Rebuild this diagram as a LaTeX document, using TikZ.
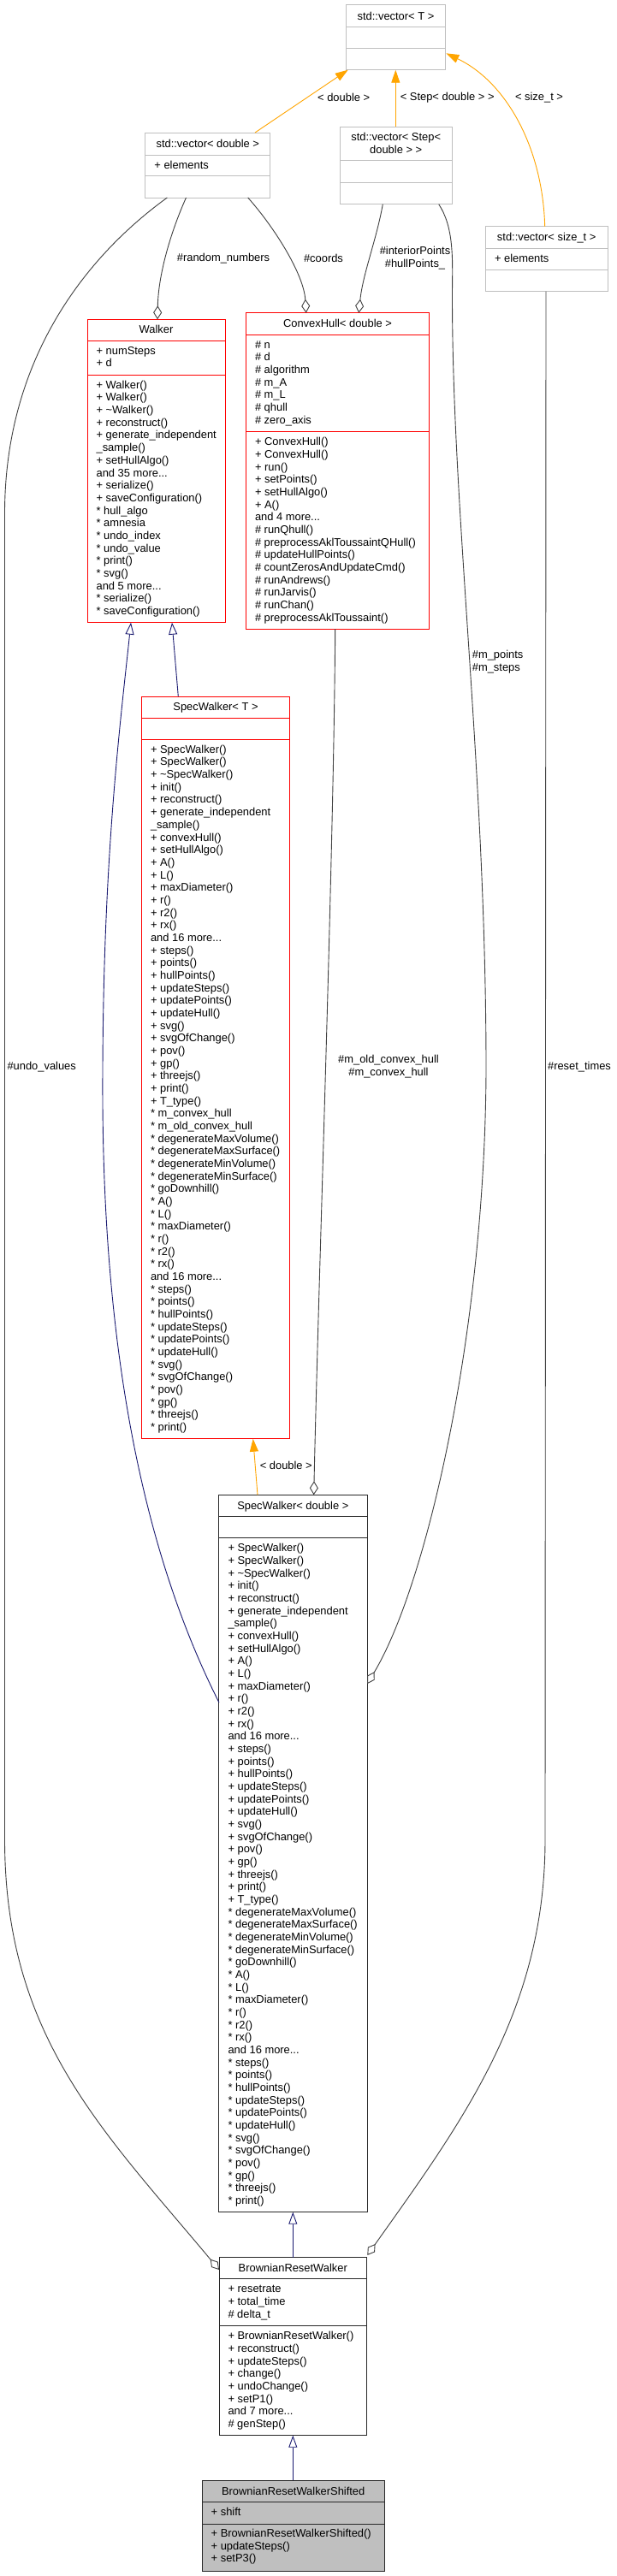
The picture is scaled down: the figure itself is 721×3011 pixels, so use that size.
\documentclass[tikz,border=0pt]{standalone}
\usepackage{fontspec}
\setmainfont{Liberation Sans}
\usetikzlibrary{arrows.meta}
\definecolor{boxgray}{RGB}{191,191,191}
\definecolor{edgegray}{RGB}{64,64,64}
\definecolor{navyblue}{RGB}{25,25,112}
\definecolor{tplorange}{RGB}{255,165,0}
\definecolor{boxred}{RGB}{255,0,0}
\definecolor{boxdark}{RGB}{40,40,40}
% #1 style, #2 colour, #3 name, #4 x1, #5 y1, #6 x2, #7 y2, #8 sep1, #9 sep2
\newcommand\umlcls[9]{%
  \node[#1, minimum width={(#6-#4)*1bp}, minimum height={(#7-#5)*1bp}] (#3) at (#4,#5) {};
  \draw[#2, line width=1bp] (#4,#8) -- (#6,#8) (#4,#9) -- (#6,#9);
}
\newcommand\umllist[4]{\node[txt] (#1) at (#2,#3) {\begin{tabular}[t]{@{}l@{}}#4\end{tabular}};}
\newcommand\umltitle[4]{\node[ttl] (#1) at (#2,#3) {\begin{tabular}[t]{@{}c@{}}#4\end{tabular}};}
\begin{document}
\begin{tikzpicture}[x=1bp,y=-1bp,
  font=\fontsize{12.9bp}{14.67bp}\selectfont,
  cbox/.style={draw, line width=1bp, inner sep=0pt, outer sep=0pt, anchor=north west},
  graybox/.style={cbox, draw=boxgray},
  redbox/.style={cbox, draw=boxred},
  darkbox/.style={cbox, draw=boxdark},
  shadedbox/.style={cbox, draw=boxdark, fill=boxgray},
  txt/.style={inner sep=0pt, outer sep=0pt, anchor=base west},
  ttl/.style={inner sep=0pt, outer sep=0pt, anchor=base},
  elabel/.style={inner sep=0pt, align=center},
  usage/.style={draw=edgegray, line width=0.9bp, -{Diamond[length=16bp,width=10bp,fill=white]}},
  inherit/.style={draw=navyblue, line width=0.9bp, -{Triangle[length=14bp,width=10bp,fill=white]}},
  tmpl/.style={draw=tplorange, line width=0.9bp, -{Triangle[length=15bp,width=10bp]}},
]
\fill[white] (0,0) rectangle (721,3011);
\useasboundingbox (0,0) rectangle (721,3011);

% ---------- boxes ----------
\umlcls{graybox}{boxgray}{vecT}{404.3}{5.7}{520.7}{81.7}{31.3}{56.7}
\umltitle{vecTt}{462.5}{23}{std::vector< T >}

\umlcls{graybox}{boxgray}{vecD}{169.7}{155}{315.9}{231}{181}{205.7}
\umltitle{vecDt}{242.8}{172.5}{std::vector< double >}
\umllist{vecDa}{180.4}{197}{+ elements}

\umlcls{graybox}{boxgray}{vecS}{397}{148}{528.3}{238.7}{187.7}{213.3}
\umltitle{vecSt}{462.7}{164.5}{std::vector< Step<\\double > >}

\umlcls{graybox}{boxgray}{vecZ}{567.3}{264.7}{710}{340.7}{290}{315.7}
\umltitle{vecZt}{638.7}{281.8}{std::vector< size\_t >}
\umllist{vecZa}{578}{306}{+ elements}

\umlcls{redbox}{boxred}{walker}{102}{373.3}{263}{727.7}{398.3}{438.3}
\umltitle{walkert}{182.5}{389.5}{Walker}
\umllist{walkera}{112.6}{414.3}{+ numSteps\\+ d}
\umllist{walkerm}{112.6}{454.3}{+ Walker()\\+ Walker()\\+ \textasciitilde Walker()\\+ reconstruct()\\+ generate\_independent\\\_sample()\\+ setHullAlgo()\\and 35 more...\\+ serialize()\\+ saveConfiguration()\\{}* hull\_algo\\{}* amnesia\\{}* undo\_index\\{}* undo\_value\\{}* print()\\{}* svg()\\and 5 more...\\{}* serialize()\\{}* saveConfiguration()}

\umlcls{redbox}{boxred}{hull}{287.4}{365.7}{501.6}{735}{391.3}{504.7}
\umltitle{hullt}{394.5}{382.5}{ConvexHull< double >}
\umllist{hulla}{298}{407.3}{\# n\\\# d\\\# algorithm\\\# m\_A\\\# m\_L\\\# qhull\\\# zero\_axis}
\umllist{hullm}{298}{520.7}{+ ConvexHull()\\+ ConvexHull()\\+ run()\\+ setPoints()\\+ setHullAlgo()\\+ A()\\and 4 more...\\\# runQhull()\\\# preprocessAklToussaintQHull()\\\# updateHullPoints()\\\# countZerosAndUpdateCmd()\\\# runAndrews()\\\# runJarvis()\\\# runChan()\\\# preprocessAklToussaint()}

\umlcls{redbox}{boxred}{specT}{165.3}{814}{338.7}{1681.7}{839}{864.3}
\umltitle{specTt}{252}{830.5}{SpecWalker< T >}
\umllist{specTm}{176}{880.3}{+ SpecWalker()\\+ SpecWalker()\\+ \textasciitilde SpecWalker()\\+ init()\\+ reconstruct()\\+ generate\_independent\\\_sample()\\+ convexHull()\\+ setHullAlgo()\\+ A()\\+ L()\\+ maxDiameter()\\+ r()\\+ r2()\\+ rx()\\and 16 more...\\+ steps()\\+ points()\\+ hullPoints()\\+ updateSteps()\\+ updatePoints()\\+ updateHull()\\+ svg()\\+ svgOfChange()\\+ pov()\\+ gp()\\+ threejs()\\+ print()\\+ T\_type()\\{}* m\_convex\_hull\\{}* m\_old\_convex\_hull\\{}* degenerateMaxVolume()\\{}* degenerateMaxSurface()\\{}* degenerateMinVolume()\\{}* degenerateMinSurface()\\{}* goDownhill()\\{}* A()\\{}* L()\\{}* maxDiameter()\\{}* r()\\{}* r2()\\{}* rx()\\and 16 more...\\{}* steps()\\{}* points()\\{}* hullPoints()\\{}* updateSteps()\\{}* updatePoints()\\{}* updateHull()\\{}* svg()\\{}* svgOfChange()\\{}* pov()\\{}* gp()\\{}* threejs()\\{}* print()}

\umlcls{darkbox}{boxdark}{specD}{255.7}{1747.3}{429}{2585.7}{1772.7}{1797.7}
\umltitle{specDt}{342.3}{1764}{SpecWalker< double >}
\umllist{specDm}{266.5}{1813.7}{+ SpecWalker()\\+ SpecWalker()\\+ \textasciitilde SpecWalker()\\+ init()\\+ reconstruct()\\+ generate\_independent\\\_sample()\\+ convexHull()\\+ setHullAlgo()\\+ A()\\+ L()\\+ maxDiameter()\\+ r()\\+ r2()\\+ rx()\\and 16 more...\\+ steps()\\+ points()\\+ hullPoints()\\+ updateSteps()\\+ updatePoints()\\+ updateHull()\\+ svg()\\+ svgOfChange()\\+ pov()\\+ gp()\\+ threejs()\\+ print()\\+ T\_type()\\{}* degenerateMaxVolume()\\{}* degenerateMaxSurface()\\{}* degenerateMinVolume()\\{}* degenerateMinSurface()\\{}* goDownhill()\\{}* A()\\{}* L()\\{}* maxDiameter()\\{}* r()\\{}* r2()\\{}* rx()\\and 16 more...\\{}* steps()\\{}* points()\\{}* hullPoints()\\{}* updateSteps()\\{}* updatePoints()\\{}* updateHull()\\{}* svg()\\{}* svgOfChange()\\{}* pov()\\{}* gp()\\{}* threejs()\\{}* print()}

\umlcls{darkbox}{boxdark}{brw}{256}{2638.8}{428.7}{2846.7}{2663.9}{2718.7}
\umltitle{brwt}{342.3}{2655.5}{BrownianResetWalker}
\umllist{brwa}{266.5}{2679.9}{+ resetrate\\+ total\_time\\\# delta\_t}
\umllist{brwm}{266.5}{2734.7}{+ BrownianResetWalker()\\+ reconstruct()\\+ updateSteps()\\+ change()\\+ undoChange()\\+ setP1()\\and 7 more...\\\# genStep()}

\umlcls{shadedbox}{boxdark}{brws}{236}{2899}{449.3}{3005}{2924.6}{2950}
\umltitle{brwst}{342.7}{2916}{BrownianResetWalkerShifted}
\umllist{brwsa}{246.7}{2940}{+ shift}
\umllist{brwsm}{246.7}{2965.3}{+ BrownianResetWalkerShifted()\\+ updateSteps()\\+ setP3()}

% ---------- connector end points on the boxes ----------
\coordinate (vecT-s1) at (406.7,81.7);
\coordinate (vecT-s2) at (462.3,81.7);
\coordinate (vecT-s3) at (521.3,62.3);
\coordinate (vecD-n1) at (298,155);
\coordinate (vecD-s1) at (195.4,231);
\coordinate (vecD-s2) at (217.5,231);
\coordinate (vecD-s3) at (289.7,231);
\coordinate (vecS-n1) at (462.3,148);
\coordinate (vecS-s1) at (447.3,238.7);
\coordinate (vecS-s2) at (512.7,238.7);
\coordinate (vecZ-n1) at (636.7,264.7);
\coordinate (vecZ-s1) at (638,340.7);
\coordinate (walker-n1) at (184,373.3);
\coordinate (walker-s1) at (153,727.7);
\coordinate (walker-s2) at (201,727.7);
\coordinate (hull-n1) at (357.7,365.7);
\coordinate (hull-n2) at (419.3,365.7);
\coordinate (hull-s1) at (391.7,735);
\coordinate (specT-n1) at (208.3,814);
\coordinate (specT-s1) at (295.7,1681.7);
\coordinate (specD-n1) at (301,1747.3);
\coordinate (specD-n2) at (366.7,1747.3);
\coordinate (specD-w1) at (256,1990);
\coordinate (specD-e1) at (429.3,1968);
\coordinate (specD-s1) at (342.3,2585.7);
\coordinate (brw-n1) at (342.3,2638.8);
\coordinate (brw-nw) at (256,2653);
\coordinate (brw-ne) at (429.3,2636);
\coordinate (brw-s1) at (342.3,2846.7);
\coordinate (brws-n1) at (342.3,2899);

% ---------- template instantiation ----------
\draw[tmpl] (vecD-n1) -- (vecT-s1);
\draw[tmpl] (vecS-n1) -- (vecT-s2);
\draw[tmpl] (vecZ-n1) .. controls (634,170) and (590,95) .. (vecT-s3);
\draw[tmpl] (specD-n1) -- (specT-s1);

% ---------- usage ----------
\draw[usage] (vecD-s2) .. controls (200,270) and (185,320) .. (walker-n1);
\draw[usage] (vecD-s3) .. controls (320,265) and (355,320) .. (hull-n1);
\draw[usage] (vecD-s1) .. controls (100,300) and (5.5,420) .. (5.5,600) -- (5.5,2150) .. controls (5.5,2380) and (120,2490) .. (brw-nw);
\draw[usage] (vecS-s1) .. controls (440,280) and (424,320) .. (hull-n2);
\draw[usage] (vecS-s2) .. controls (530,265) and (529,300) .. (528.5,340) .. controls (528,600) and (568,900) .. (568,1250) .. controls (567,1550) and (500,1850) .. (specD-e1);
\draw[usage] (hull-s1) .. controls (390,1000) and (372,1500) .. (specD-n2);
\draw[usage] (vecZ-s1) -- (637,2150) .. controls (637,2350) and (540,2480) .. (brw-ne);

% ---------- inheritance ----------
\draw[inherit] (specT-n1) -- (walker-s2);
\draw[inherit] (specD-w1) .. controls (160,1800) and (118,1550) .. (120,1250) .. controls (121,1000) and (140,850) .. (walker-s1);
\draw[inherit] (brw-n1) -- (specD-s1);
\draw[inherit] (brws-n1) -- (brw-s1);

% ---------- edge labels ----------
\node[elabel] (lab1) at (401.7,114) {< double >};
\node[elabel] (lab2) at (522.7,114) {< Step< double > >};
\node[elabel] (lab3) at (630,114) {< size\_t >};
\node[elabel] (lab4) at (261,301.7) {\#random\_numbers};
\node[elabel] (lab5) at (378,301.7) {\#coords};
\node[elabel] (lab6) at (485,301.3) {\#interiorPoints\\\#hullPoints\_};
\node[inner sep=0pt, align=left, anchor=west] (lab7) at (551.7,773.7) {\#m\_points\\\#m\_steps};
\node[elabel] (lab8) at (48.7,1246.7) {\#undo\_values};
\node[elabel] (lab9) at (454,1246.8) {\#m\_old\_convex\_hull\\\#m\_convex\_hull};
\node[elabel] (lab10) at (677,1246.7) {\#reset\_times};
\node[elabel] (lab11) at (334.3,1713.3) {< double >};
\end{tikzpicture}
\end{document}
